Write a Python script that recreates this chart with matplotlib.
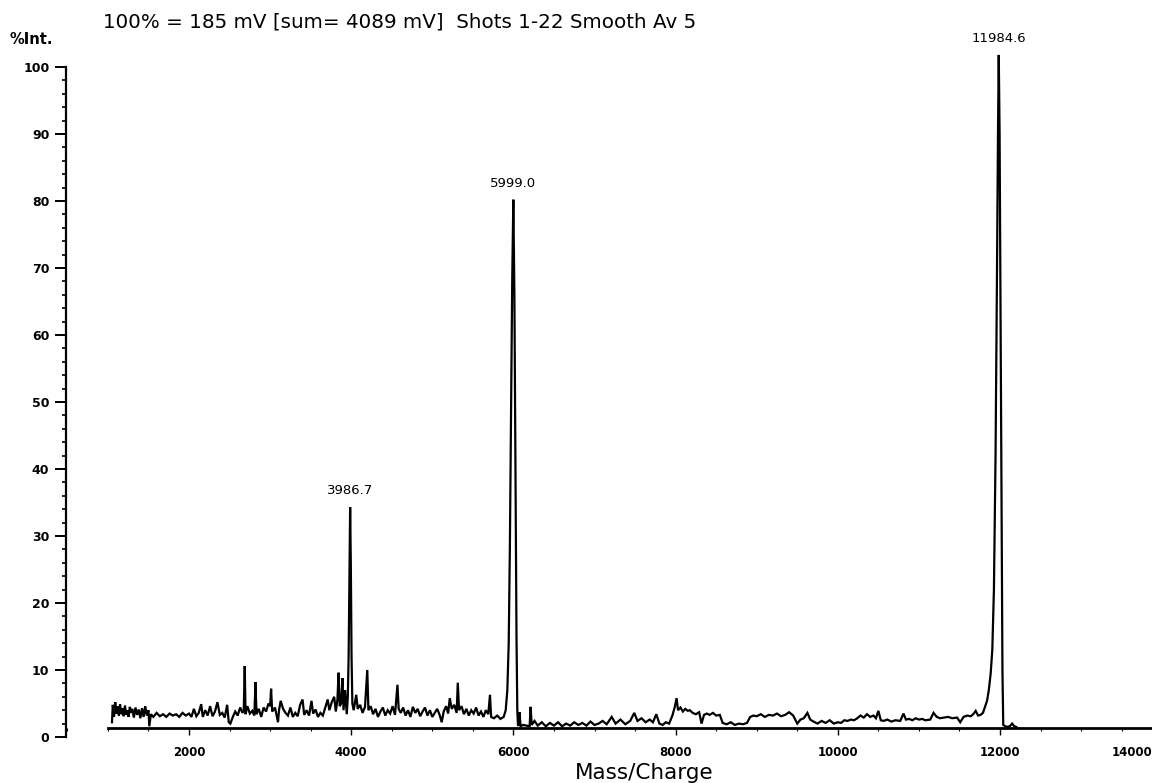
import matplotlib
matplotlib.use("Agg")
import matplotlib.pyplot as plt
import matplotlib.transforms as mtransforms
from matplotlib.ticker import MultipleLocator, FixedLocator

# Spectrum trace: mass/charge and relative intensity (%), ten points per row
mass = [
    1050, 1060, 1075, 1090, 1105, 1120, 1135, 1150, 1165, 1180,
    1195, 1210, 1225, 1240, 1255, 1270, 1285, 1300, 1320, 1340,
    1360, 1380, 1400, 1420, 1440, 1460, 1480, 1500, 1510, 1530,
    1560, 1600, 1640, 1680, 1720, 1760, 1800, 1840, 1880, 1920,
    1960, 2000, 2030, 2060, 2090, 2120, 2150, 2170, 2200, 2230,
    2260, 2290, 2320, 2350, 2380, 2410, 2440, 2470, 2490, 2510,
    2540, 2570, 2600, 2630, 2660, 2675, 2687, 2697, 2720, 2750,
    2780, 2805, 2820, 2832, 2860, 2890, 2920, 2950, 2980, 3000,
    3012, 3025, 3060, 3097, 3110, 3130, 3160, 3190, 3220, 3250,
    3280, 3310, 3340, 3370, 3400, 3420, 3450, 3480, 3510, 3530,
    3560, 3590, 3620, 3650, 3680, 3710, 3730, 3760, 3790, 3810,
    3830, 3844, 3858, 3875, 3892, 3905, 3925, 3945, 3958, 3968,
    3978, 3986.7, 3995, 4004, 4014, 4030, 4062, 4080, 4110, 4140,
    4170, 4198, 4212, 4240, 4270, 4300, 4330, 4360, 4390, 4420,
    4450, 4480, 4510, 4540, 4570, 4585, 4610, 4640, 4670, 4700,
    4730, 4760, 4790, 4820, 4850, 4880, 4910, 4940, 4970, 5000,
    5030, 5060, 5090, 5116, 5140, 5170, 5195, 5215, 5240, 5270,
    5300, 5314, 5330, 5360, 5390, 5420, 5450, 5480, 5510, 5540,
    5570, 5600, 5630, 5660, 5690, 5711, 5725, 5760, 5800, 5840,
    5880, 5905, 5925, 5942, 5956, 5970, 5985, 5999.0, 6012, 6025,
    6038, 6048, 6056, 6064, 6075, 6088, 6120, 6160, 6200, 6212,
    6225, 6260, 6300, 6350, 6400, 6450, 6500, 6550, 6600, 6650,
    6700, 6750, 6800, 6850, 6900, 6950, 7000, 7050, 7100, 7150,
    7212, 7260, 7320, 7380, 7440, 7490, 7530, 7580, 7630, 7680,
    7720, 7762, 7800, 7840, 7880, 7920, 7960, 7990, 8012, 8030,
    8060, 8090, 8120, 8150, 8175, 8210, 8250, 8290, 8320, 8350,
    8385, 8420, 8460, 8500, 8545, 8580, 8630, 8680, 8730, 8780,
    8830, 8880, 8920, 8960, 9000, 9050, 9100, 9150, 9200, 9250,
    9300, 9350, 9400, 9450, 9500, 9540, 9580, 9625, 9660, 9700,
    9750, 9800, 9850, 9900, 9950, 10000, 10040, 10080, 10120, 10160,
    10200, 10240, 10280, 10320, 10360, 10400, 10440, 10470, 10500, 10530,
    10565, 10610, 10660, 10710, 10770, 10810, 10840, 10880, 10920, 10960,
    11000, 11040, 11080, 11140, 11180, 11220, 11260, 11310, 11360, 11410,
    11470, 11510, 11550, 11595, 11640, 11670, 11700, 11730, 11760, 11790,
    11815, 11840, 11862, 11885, 11905, 11925, 11945, 11962, 11975, 11984.6,
    11995, 12008, 12020, 12030, 12040, 12080, 12120, 12150, 12175, 12200,
]
intensity = [
    2.2, 4.8, 3.0, 5.2, 3.5, 4.6, 3.2, 4.9, 3.4, 4.3,
    3.1, 4.7, 3.3, 4.0, 3.0, 4.5, 3.6, 4.2, 2.9, 4.4,
    3.3, 4.1, 2.8, 4.3, 3.0, 4.6, 3.2, 4.0, 1.6, 3.4,
    3.0, 3.6, 3.1, 3.4, 3.0, 3.5, 3.2, 3.4, 3.0, 3.6,
    3.2, 3.5, 3.0, 4.2, 3.1, 3.6, 4.9, 3.0, 4.0, 3.2,
    4.6, 3.1, 3.8, 5.2, 3.3, 3.6, 2.9, 4.8, 2.2, 2.0,
    3.0, 3.8, 3.2, 4.4, 3.6, 4.0, 10.6, 3.4, 4.6, 3.5,
    3.9, 3.2, 8.2, 3.4, 4.2, 3.0, 4.4, 3.8, 5.0, 4.6,
    7.2, 3.8, 4.4, 2.2, 4.0, 5.4, 4.2, 3.6, 3.2, 4.4,
    3.0, 3.6, 3.1, 4.8, 5.6, 3.3, 4.0, 3.2, 5.4, 3.5,
    4.1, 3.0, 3.6, 3.2, 4.4, 5.6, 4.0, 5.2, 6.0, 3.8,
    5.6, 9.6, 4.6, 5.0, 8.8, 4.0, 7.0, 3.4, 6.0, 12.0,
    24.0, 34.3, 26.0, 12.0, 5.0, 4.0, 6.3, 4.2, 4.8, 3.6,
    4.5, 10.0, 4.0, 4.6, 3.4, 4.2, 3.0, 3.8, 4.4, 3.2,
    4.0, 3.5, 4.6, 3.3, 7.8, 4.2, 3.6, 4.4, 3.2, 4.0,
    3.0, 4.5, 3.6, 4.2, 3.1, 3.8, 4.4, 3.2, 4.0, 3.0,
    3.6, 4.2, 3.3, 2.2, 3.8, 4.6, 3.5, 5.8, 4.2, 4.8,
    3.6, 8.1, 4.0, 4.6, 3.4, 4.2, 3.2, 4.0, 3.5, 4.4,
    3.2, 3.8, 3.0, 4.0, 3.4, 6.3, 3.0, 2.8, 3.2, 2.7,
    3.0, 4.0, 7.0, 14.0, 28.0, 48.0, 68.0, 80.2, 66.0, 40.0,
    15.0, 4.0, 1.8, 1.7, 3.7, 1.6, 1.8, 1.7, 1.6, 4.5,
    1.8, 2.4, 1.7, 2.2, 1.6, 2.1, 1.7, 2.2, 1.6, 2.0,
    1.7, 2.2, 1.8, 2.1, 1.7, 2.3, 1.8, 2.0, 2.4, 1.9,
    3.0, 2.0, 2.6, 1.9, 2.4, 3.6, 2.4, 2.8, 2.2, 2.6,
    2.2, 3.4, 2.0, 1.8, 2.2, 2.0, 3.2, 4.5, 5.8, 4.0,
    4.4, 3.8, 4.2, 3.9, 4.0, 3.6, 3.4, 3.7, 2.0, 3.3,
    3.5, 3.3, 3.6, 3.2, 3.3, 2.1, 1.9, 2.2, 1.8, 2.0,
    1.9, 2.1, 3.0, 3.2, 3.1, 3.4, 3.0, 3.3, 3.2, 3.5,
    3.1, 3.3, 3.7, 3.2, 2.0, 2.6, 2.8, 3.6, 2.6, 2.3,
    2.0, 2.4, 2.1, 2.5, 2.0, 2.2, 2.1, 2.5, 2.4, 2.6,
    2.5, 2.8, 3.2, 2.9, 3.4, 3.0, 3.2, 2.8, 3.9, 2.5,
    2.4, 2.6, 2.3, 2.5, 2.4, 3.5, 2.6, 2.7, 2.5, 2.8,
    2.6, 2.7, 2.5, 2.6, 3.6, 3.0, 2.8, 2.9, 3.0, 2.8,
    2.9, 2.2, 3.0, 3.2, 3.1, 3.4, 3.9, 3.2, 3.3, 3.6,
    4.5, 5.4, 7.0, 9.5, 13.0, 22.0, 42.0, 68.0, 90.0, 101.8,
    90.0, 60.0, 30.0, 10.0, 1.8, 1.5, 1.6, 2.0, 1.6, 1.5,
]

# Labelled peak centroids
peak_mass = [3986.7, 5999.0, 11984.6]
peak_height = [34.3, 80.2, 101.8]
peak_text = ["3986.7", "5999.0", "11984.6"]

x_ticks = [2000, 4000, 6000, 8000, 10000, 12000, 14000]
y_ticks = [0, 10, 20, 30, 40, 50, 60, 70, 80, 90, 100]
y_minor = [v for v in range(0, 101, 2) if v % 10]

header = "100% = 185 mV [sum= 4089 mV]  Shots 1-22 Smooth Av 5"

fig = plt.figure(figsize=(11.52, 7.83), dpi=100)
fig.patch.set_facecolor("white")

x_left, x_right = 483, 14500
y_bottom, y_top = 0, 104
px_per_mass = 0.0811
px_per_pct = 6.7
ax_left = 66 / 1152
ax_width = (189 + (x_right - 2000) * px_per_mass - 66) / 1152
ax_bottom = (783 - 737) / 783
ax_height = (y_top * px_per_pct) / 783
ax = fig.add_axes([ax_left, ax_bottom, ax_width, ax_height])

ax.plot(mass, intensity, color="black", linewidth=1.6, solid_joinstyle="miter")

ax.set_xlim(x_left, x_right)
ax.set_ylim(y_bottom, y_top)

for side in ("top", "right"):
    ax.spines[side].set_visible(False)
ax.spines["left"].set_bounds(0, 100)
ax.spines["left"].set_linewidth(1.6)
ax.spines["bottom"].set_position(("data", 1.4))
ax.spines["bottom"].set_bounds(1000, x_right)
ax.spines["bottom"].set_linewidth(2.0)

ax.set_xticks(x_ticks)
ax.set_xticklabels([str(v) for v in x_ticks])
ax.xaxis.set_minor_locator(MultipleLocator(500))
ax.set_yticks(y_ticks)
ax.set_yticklabels([str(v) for v in y_ticks])
ax.yaxis.set_minor_locator(FixedLocator(y_minor))

ax.tick_params(axis="x", which="major", direction="out", length=5, width=1.0,
               pad=8, labelsize=8.5)
ax.tick_params(axis="x", which="minor", direction="out", length=2, width=0.8)
ax.tick_params(axis="y", which="major", direction="out", length=8, width=1.4,
               pad=4, labelsize=9)
ax.tick_params(axis="y", which="minor", direction="out", length=3, width=1.2)
for lab in ax.get_xticklabels() + ax.get_yticklabels():
    lab.set_fontweight("bold")

# last mass label sits at the right edge of the page; pull it inside
last = ax.get_xticklabels()[-1]
last.set_transform(last.get_transform()
                   + mtransforms.ScaledTranslation(-30 / 100, 0, fig.dpi_scale_trans))

for m, h, t in zip(peak_mass, peak_height, peak_text):
    ax.annotate(t, xy=(m, h), xytext=(0, 7), textcoords="offset points",
                ha="center", va="bottom", fontsize=9.5)

fig.text(103 / 1152, 1 - 22 / 783, header, fontsize=14.3, ha="left", va="center")
fig.text(10 / 1152, 1 - 40 / 783, "%Int.", fontsize=10.5, fontweight="bold",
         ha="left", va="center")
fig.text(644 / 1152, 1 - 773 / 783, "Mass/Charge", fontsize=15.5,
         ha="center", va="center")

fig.savefig("out.png", dpi=100, facecolor="white")
